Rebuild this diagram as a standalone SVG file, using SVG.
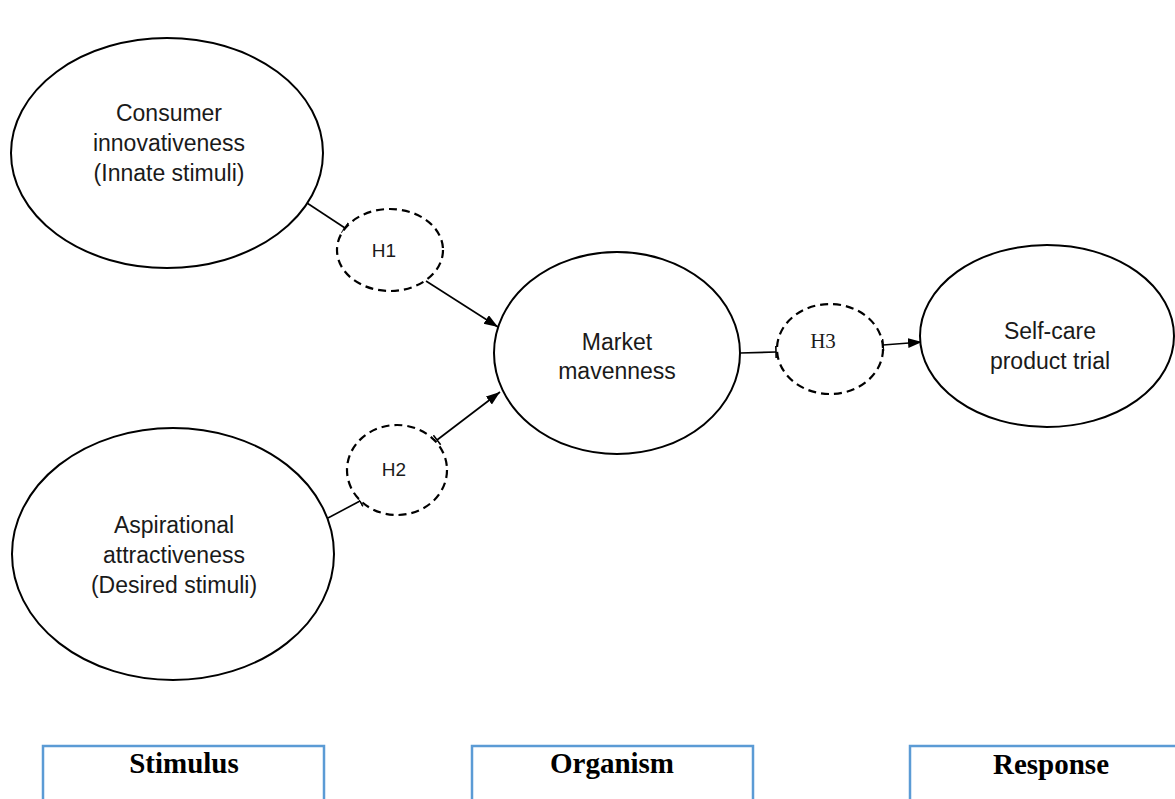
<svg xmlns="http://www.w3.org/2000/svg" width="1175" height="799" viewBox="0 0 1175 799">
<style>
.node{fill:#fff;stroke:#000;stroke-width:2}
.hyp{fill:#fff;stroke:#000;stroke-width:2.2;stroke-dasharray:8 5}
.lbl{font-family:"Liberation Sans",Arial,sans-serif;font-size:23px;fill:#1a1a1a;text-anchor:middle}
.hl{font-family:"Liberation Sans",Arial,sans-serif;font-size:19px;fill:#1a1a1a;text-anchor:middle}
.hs{font-family:"Liberation Serif","Times New Roman",serif;font-size:21px;fill:#1a1a1a;text-anchor:middle}
.box{fill:#fff;stroke:#5B9BD5;stroke-width:2.5}
.bl{font-family:"Liberation Serif","Times New Roman",serif;font-size:29px;font-weight:bold;fill:#000;text-anchor:middle}
.con{fill:none;stroke:#000;stroke-width:1.6}
</style>
<defs>
<marker id="arrow" markerUnits="userSpaceOnUse" markerWidth="16" markerHeight="12" refX="14" refY="5" orient="auto">
<path d="M0,0 L14,5 L0,10 z" fill="#000"/>
</marker>
<marker id="tick" markerUnits="userSpaceOnUse" markerWidth="4" markerHeight="14" refX="1" refY="6" orient="auto">
<path d="M1,0 L1,12" stroke="#000" stroke-width="1.6"/>
</marker>
</defs>
<rect width="1175" height="799" fill="#fff"/>
<g id="connectors">
<line class="con" x1="307" y1="203" x2="345" y2="228" marker-end="url(#tick)"/>
<line class="con" x1="426" y1="281" x2="498" y2="327" marker-end="url(#arrow)"/>
<line class="con" x1="328" y1="518" x2="360" y2="501" marker-end="url(#tick)"/>
<line class="con" x1="437" y1="440" x2="500" y2="392" marker-start="url(#tick)" marker-end="url(#arrow)"/>
<line class="con" x1="740" y1="353" x2="776" y2="352" marker-end="url(#tick)"/>
<line class="con" x1="883" y1="345" x2="922" y2="342" marker-start="url(#tick)" marker-end="url(#arrow)"/>
</g>
<g id="consumer">
<ellipse class="node" cx="167" cy="153" rx="156" ry="115"/>
<text class="lbl" x="169" y="121">Consumer</text>
<text class="lbl" x="169" y="151">innovativeness</text>
<text class="lbl" x="169" y="181">(Innate stimuli)</text>
</g>
<g id="aspirational">
<ellipse class="node" cx="173" cy="554" rx="161" ry="126"/>
<text class="lbl" x="174" y="533">Aspirational</text>
<text class="lbl" x="174" y="563">attractiveness</text>
<text class="lbl" x="174" y="593">(Desired stimuli)</text>
</g>
<g id="h1">
<ellipse class="hyp" cx="390" cy="250" rx="53" ry="41"/>
<text class="hl" x="384" y="257">H1</text>
</g>
<g id="h2">
<ellipse class="hyp" cx="397" cy="470" rx="50" ry="45"/>
<text class="hl" x="394" y="476">H2</text>
</g>
<g id="market">
<ellipse class="node" cx="617" cy="353" rx="123" ry="101"/>
<text class="lbl" x="617" y="350">Market</text>
<text class="lbl" x="617" y="379">mavenness</text>
</g>
<g id="h3">
<ellipse class="hyp" cx="830" cy="349" rx="53" ry="45"/>
<text class="hs" x="823" y="348">H3</text>
</g>
<g id="selfcare">
<ellipse class="node" cx="1047" cy="336" rx="127" ry="91"/>
<text class="lbl" x="1050" y="339">Self-care</text>
<text class="lbl" x="1050" y="369">product trial</text>
</g>
<g id="stimulus">
<rect class="box" x="43" y="746" width="281" height="70"/>
<text class="bl" x="184" y="773">Stimulus</text>
</g>
<g id="organism">
<rect class="box" x="472" y="746" width="281" height="70"/>
<text class="bl" x="612" y="773">Organism</text>
</g>
<g id="response">
<rect class="box" x="910" y="746" width="281" height="70"/>
<text class="bl" x="1051" y="774">Response</text>
</g>
</svg>
